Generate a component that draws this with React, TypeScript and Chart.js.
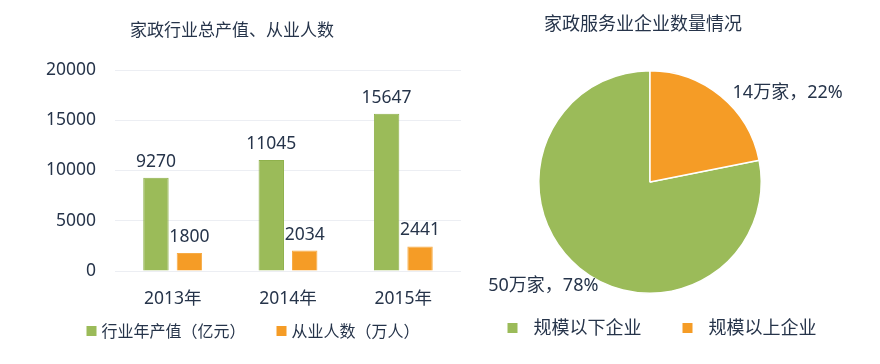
import React, { useEffect, useRef } from "react";
import { Chart, registerables } from "chart.js";

Chart.register(...registerables);

// ---- data ----
const barCategories = ["2013年", "2014年", "2015年"];
const outputValues = [9270, 11045, 15647]; // 行业年产值（亿元）
const workerValues = [1800, 2034, 2441]; // 从业人数（万人）
const barSeriesNames = ["行业年产值（亿元）", "从业人数（万人）"];
const yTicks = [0, 5000, 10000, 15000, 20000];
const barTitle = "家政行业总产值、从业人数";

const pieLabels = ["规模以下企业", "规模以上企业"];
const pieCounts = [50, 14]; // 万家
const piePercents = [78, 22];
const pieTitle = "家政服务业企业数量情况";

// ---- style ----
const GREEN = "#9bbb59";
const GREEN_BORDER = "#8fb14c";
const ORANGE = "#f59c26";
const ORANGE_BORDER = "#f7ab45";
const TEXT = "#26344a";
const GRID = "#eceef3";
const FONT_FAMILY = '"Noto Sans", "Noto Sans CJK SC", sans-serif';

function drawLegend(
  ctx: CanvasRenderingContext2D,
  items: { text: string; color: string }[],
  centerX: number,
  cy: number,
  fontSize: number,
  boxGap: number,
  itemGap: number
) {
  ctx.save();
  ctx.font = `${fontSize}px ${FONT_FAMILY}`;
  const widths = items.map((it) => ctx.measureText(it.text).width);
  const total =
    widths.reduce((a, w) => a + 10 + boxGap + w, 0) + itemGap * (items.length - 1);
  let x = centerX - total / 2;
  ctx.textAlign = "left";
  ctx.textBaseline = "middle";
  items.forEach((it, i) => {
    ctx.fillStyle = it.color;
    ctx.fillRect(x, cy - 5, 10, 10);
    ctx.fillStyle = TEXT;
    ctx.fillText(it.text, x + 10 + boxGap, cy + 1);
    x += 10 + boxGap + widths[i] + itemGap;
  });
  ctx.restore();
}

function BarChart() {
  const ref = useRef<HTMLCanvasElement | null>(null);
  useEffect(() => {
    if (!ref.current) return;
    const valueLabels = {
      id: "valueLabels",
      afterDatasetsDraw(chart: any) {
        const ctx = chart.ctx;
        ctx.save();
        ctx.font = `17.5px ${FONT_FAMILY}`;
        ctx.fillStyle = TEXT;
        ctx.textAlign = "center";
        ctx.textBaseline = "alphabetic";
        chart.data.datasets.forEach((ds: any, i: number) => {
          const meta = chart.getDatasetMeta(i);
          meta.data.forEach((el: any, j: number) => {
            ctx.fillText(String(ds.data[j]), el.x, el.y - 11);
          });
        });
        ctx.restore();
      },
      afterDraw(chart: any) {
        const ctx = chart.ctx;
        ctx.save();
        ctx.font = `17px ${FONT_FAMILY}`;
        ctx.fillStyle = TEXT;
        ctx.textAlign = "center";
        ctx.textBaseline = "middle";
        ctx.fillText(barTitle, 232, 31);
        ctx.restore();
        drawLegend(
          ctx,
          [
            { text: barSeriesNames[0], color: GREEN },
            { text: barSeriesNames[1], color: ORANGE },
          ],
          253,
          331,
          16,
          5,
          31
        );
      },
    };
    const chart = new Chart(ref.current, {
      type: "bar",
      data: {
        labels: barCategories,
        datasets: [
          {
            label: barSeriesNames[0],
            data: outputValues,
            backgroundColor: GREEN,
            borderColor: GREEN_BORDER,
            borderWidth: 1,
            categoryPercentage: 0.58,
            barPercentage: 0.76,
          },
          {
            label: barSeriesNames[1],
            data: workerValues,
            backgroundColor: ORANGE,
            borderColor: ORANGE_BORDER,
            borderWidth: 1,
            categoryPercentage: 0.58,
            barPercentage: 0.76,
          },
        ],
      },
      options: {
        responsive: false,
        animation: false,
        layout: { padding: { top: 70, left: 0, right: 9, bottom: 53 } },
        plugins: {
          legend: { display: false },
          title: { display: false },
          tooltip: { enabled: false },
        },
        scales: {
          x: {
            grid: { display: false, drawTicks: false },
            border: { display: false },
            ticks: {
              padding: 18,
              color: TEXT,
              font: { size: 17.5, family: FONT_FAMILY },
            },
            afterFit: (s: any) => {
              s.height = 40;
            },
          },
          y: {
            min: yTicks[0],
            max: yTicks[yTicks.length - 1],
            afterBuildTicks: (s: any) => {
              s.ticks = yTicks.map((v) => ({ value: v }));
            },
            grid: { color: GRID, drawTicks: false, lineWidth: 1 },
            border: { display: false },
            ticks: {
              padding: 19,
              color: TEXT,
              font: { size: 17.5, family: FONT_FAMILY },
              callback: (v: any) => String(v),
            },
            afterFit: (s: any) => {
              s.width = 115;
            },
          },
        },
      },
      plugins: [valueLabels],
    } as any);
    return () => chart.destroy();
  }, []);
  return <canvas ref={ref} width={470} height={364} />;
}

function PieChart() {
  const ref = useRef<HTMLCanvasElement | null>(null);
  useEffect(() => {
    if (!ref.current) return;
    const total = pieCounts.reduce((a, b) => a + b, 0);
    const pieDecor = {
      id: "pieDecor",
      afterDatasetsDraw(chart: any) {
        const ctx = chart.ctx;
        ctx.save();
        ctx.font = `18px ${FONT_FAMILY}`;
        ctx.fillStyle = TEXT;
        ctx.textBaseline = "middle";
        const meta = chart.getDatasetMeta(0);
        meta.data.forEach((el: any, j: number) => {
          const { x, y, startAngle, endAngle, outerRadius } = el.getProps(
            ["x", "y", "startAngle", "endAngle", "outerRadius"],
            true
          );
          const mid = (startAngle + endAngle) / 2;
          const px = x + Math.cos(mid) * outerRadius;
          const py = y + Math.sin(mid) * outerRadius;
          const text = `${pieCounts[j]}万家，${piePercents[j]}%`;
          if (Math.cos(mid) >= 0) {
            ctx.textAlign = "left";
            ctx.fillText(text, px + 12, py - 3);
          } else {
            ctx.textAlign = "right";
            ctx.fillText(text, px + 19, py + 18);
          }
        });
        ctx.restore();
      },
      afterDraw(chart: any) {
        const ctx = chart.ctx;
        ctx.save();
        ctx.font = `18px ${FONT_FAMILY}`;
        ctx.fillStyle = TEXT;
        ctx.textAlign = "center";
        ctx.textBaseline = "middle";
        ctx.fillText(pieTitle, 173, 25);
        ctx.restore();
        drawLegend(
          ctx,
          [
            { text: pieLabels[0], color: GREEN },
            { text: pieLabels[1], color: ORANGE },
          ],
          192,
          328,
          18,
          16,
          41
        );
      },
    };
    const chart = new Chart(ref.current, {
      type: "pie",
      data: {
        labels: pieLabels,
        datasets: [
          {
            data: pieCounts,
            backgroundColor: [GREEN, ORANGE],
            borderColor: "#ffffff",
            borderWidth: 1.5,
            hoverOffset: 0,
          },
        ],
      },
      options: {
        responsive: false,
        animation: false,
        rotation: (pieCounts[1] / total) * 360,
        layout: { padding: { top: 70, bottom: 70, left: 40, right: 90 } },
        plugins: {
          legend: { display: false },
          title: { display: false },
          tooltip: { enabled: false },
        },
      },
      plugins: [pieDecor],
    } as any);
    return () => chart.destroy();
  }, []);
  return <canvas ref={ref} width={410} height={364} />;
}

export default function App() {
  return (
    <div
      style={{
        position: "absolute",
        left: 0,
        top: 0,
        width: 880,
        height: 364,
        background: "#ffffff",
        overflow: "hidden",
      }}
    >
      <div style={{ position: "absolute", left: 0, top: 0, width: 470, height: 364 }}>
        <BarChart />
      </div>
      <div style={{ position: "absolute", left: 470, top: 0, width: 410, height: 364 }}>
        <PieChart />
      </div>
    </div>
  );
}
